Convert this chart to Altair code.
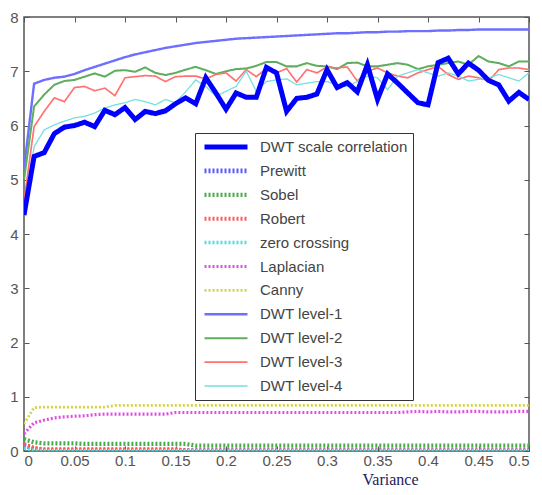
import altair as alt
import pandas as pd

variance = [0.0, 0.01, 0.02, 0.03, 0.04, 0.05, 0.06, 0.07, 0.08, 0.09,
            0.1, 0.11, 0.12, 0.13, 0.14, 0.15, 0.16, 0.17, 0.18, 0.19,
            0.2, 0.21, 0.22, 0.23, 0.24, 0.25, 0.26, 0.27, 0.28, 0.29,
            0.3, 0.31, 0.32, 0.33, 0.34, 0.35, 0.36, 0.37, 0.38, 0.39,
            0.4, 0.41, 0.42, 0.43, 0.44, 0.45, 0.46, 0.47, 0.48, 0.49, 0.5]

dwt_scale_corr = [4.35, 5.43, 5.5, 5.85, 5.97, 6.0, 6.06, 5.98, 6.28, 6.2,
                  6.33, 6.11, 6.26, 6.22, 6.27, 6.4, 6.51, 6.4, 6.88, 6.6,
                  6.3, 6.6, 6.52, 6.52, 7.07, 6.97, 6.26, 6.5, 6.52, 6.58,
                  7.03, 6.7, 6.79, 6.62, 7.12, 6.48, 6.95, 6.78, 6.6, 6.42,
                  6.38, 7.16, 7.24, 6.95, 7.15, 7.02, 6.83, 6.75, 6.45, 6.61, 6.48]

prewitt = [0.1, 0.04, 0.02, 0.02, 0.02, 0.02, 0.02, 0.02, 0.02, 0.02,
           0.02, 0.02, 0.02, 0.02, 0.02, 0.02, 0.01, 0.01, 0.01, 0.01,
           0.01, 0.01, 0.01, 0.01, 0.01, 0.01, 0.01, 0.01, 0.01, 0.01,
           0.01, 0.01, 0.01, 0.01, 0.01, 0.01, 0.01, 0.01, 0.01, 0.01,
           0.01, 0.01, 0.01, 0.01, 0.01, 0.01, 0.01, 0.01, 0.01, 0.01, 0.01]

sobel = [0.22, 0.16, 0.14, 0.14, 0.14, 0.14, 0.13, 0.13, 0.13, 0.13,
         0.13, 0.13, 0.13, 0.13, 0.13, 0.13, 0.13, 0.1, 0.1, 0.1,
         0.1, 0.1, 0.1, 0.1, 0.1, 0.1, 0.1, 0.1, 0.1, 0.1,
         0.1, 0.1, 0.1, 0.1, 0.1, 0.1, 0.1, 0.1, 0.1, 0.1,
         0.1, 0.1, 0.1, 0.1, 0.1, 0.1, 0.1, 0.1, 0.1, 0.1, 0.1]

robert = [0.13, 0.06, 0.03, 0.03, 0.03, 0.03, 0.03, 0.03, 0.03, 0.03,
          0.03, 0.03, 0.03, 0.03, 0.03, 0.03, 0.01, 0.01, 0.01, 0.01,
          0.01, 0.01, 0.01, 0.01, 0.01, 0.01, 0.01, 0.01, 0.01, 0.01,
          0.01, 0.01, 0.01, 0.01, 0.01, 0.01, 0.01, 0.01, 0.01, 0.01,
          0.01, 0.01, 0.01, 0.01, 0.01, 0.01, 0.01, 0.01, 0.01, 0.01, 0.01]

zero_crossing = [0.05, 0.01, 0.005, 0.005, 0.005, 0.005, 0.005, 0.005, 0.005, 0.005,
                 0.005, 0.005, 0.005, 0.005, 0.005, 0.005, 0.005, 0.005, 0.005, 0.005,
                 0.005, 0.005, 0.005, 0.005, 0.005, 0.005, 0.005, 0.005, 0.005, 0.005,
                 0.005, 0.005, 0.005, 0.005, 0.005, 0.005, 0.005, 0.005, 0.005, 0.005,
                 0.005, 0.005, 0.005, 0.005, 0.005, 0.005, 0.005, 0.005, 0.005, 0.005, 0.005]

laplacian = [0.32, 0.52, 0.57, 0.61, 0.63, 0.64, 0.65, 0.67, 0.68, 0.68,
             0.68, 0.68, 0.68, 0.68, 0.68, 0.71, 0.71, 0.71, 0.71, 0.71,
             0.71, 0.71, 0.71, 0.71, 0.71, 0.71, 0.71, 0.71, 0.71, 0.71,
             0.71, 0.71, 0.71, 0.71, 0.71, 0.71, 0.71, 0.71, 0.72, 0.73,
             0.72, 0.73, 0.72, 0.72, 0.73, 0.73, 0.72, 0.72, 0.72, 0.73, 0.73]

canny = [0.5, 0.8, 0.81, 0.81, 0.81, 0.81, 0.81, 0.81, 0.81, 0.84,
         0.84, 0.84, 0.84, 0.84, 0.84, 0.84, 0.84, 0.84, 0.84, 0.84,
         0.84, 0.84, 0.84, 0.84, 0.84, 0.84, 0.84, 0.84, 0.84, 0.84,
         0.84, 0.84, 0.84, 0.84, 0.84, 0.84, 0.84, 0.84, 0.84, 0.84,
         0.84, 0.84, 0.84, 0.84, 0.84, 0.84, 0.84, 0.84, 0.84, 0.84, 0.84]

dwt_level1 = [5.2, 6.77, 6.84, 6.88, 6.9, 6.95, 7.02, 7.08, 7.14, 7.2,
              7.26, 7.31, 7.35, 7.39, 7.43, 7.46, 7.49, 7.52, 7.54, 7.56,
              7.58, 7.6, 7.61, 7.62, 7.63, 7.64, 7.65, 7.66, 7.67, 7.68,
              7.69, 7.7, 7.7, 7.71, 7.72, 7.72, 7.73, 7.73, 7.74, 7.74,
              7.74, 7.75, 7.75, 7.76, 7.76, 7.77, 7.77, 7.77, 7.77, 7.77, 7.77]

dwt_level2 = [5.0, 6.35, 6.57, 6.75, 6.82, 6.84, 6.9, 6.96, 6.9, 7.01,
              7.02, 6.99, 7.07, 6.97, 6.93, 6.97, 7.03, 7.08, 7.02, 6.95,
              7.0, 7.04, 7.05, 7.1, 7.17, 7.17, 7.09, 7.09, 7.15, 7.1,
              7.09, 7.04, 7.15, 7.16, 7.09, 7.09, 7.12, 7.15, 7.12, 7.04,
              7.09, 7.12, 7.15, 7.18, 7.12, 7.28, 7.18, 7.15, 7.09, 7.18, 7.18]

dwt_level3 = [4.6, 5.98, 6.26, 6.51, 6.44, 6.7, 6.72, 6.64, 6.69, 6.55,
              6.88, 6.9, 6.92, 6.91, 6.81, 6.9, 6.91, 6.91, 6.86, 6.94,
              6.97, 6.82, 7.03, 6.9, 7.05, 6.97, 7.05, 6.8, 7.03, 6.97,
              7.08, 7.06, 7.08, 6.82, 7.0, 7.06, 6.97, 6.91, 6.88, 6.97,
              7.03, 7.09, 6.94, 6.85, 6.91, 6.88, 6.82, 7.03, 7.06, 7.06, 7.03]

dwt_level4 = [4.4, 5.61, 5.92, 6.01, 6.08, 6.14, 6.17, 6.23, 6.32, 6.38,
              6.42, 6.48, 6.44, 6.38, 6.48, 6.42, 6.62, 6.84, 6.72, 6.54,
              6.63, 6.72, 7.0, 6.63, 6.81, 6.84, 6.86, 6.75, 6.78, 6.81,
              6.81, 6.75, 6.72, 6.81, 6.91, 6.88, 6.66, 6.91, 6.97, 7.03,
              6.97, 6.91, 6.97, 6.91, 6.82, 6.85, 6.88, 6.94, 6.88, 6.82, 6.97]

series_names = ["DWT scale correlation", "Prewitt", "Sobel", "Robert", "zero crossing",
                "Laplacian", "Canny", "DWT level-1", "DWT level-2", "DWT level-3", "DWT level-4"]
series_values = [dwt_scale_corr, prewitt, sobel, robert, zero_crossing,
                 laplacian, canny, dwt_level1, dwt_level2, dwt_level3, dwt_level4]

colors = ["#0000ff", "#5a5aff", "#4caa4c", "#ff5a5a", "#4fdede", "#e050e0",
          "#d4d44a", "#6e6eff", "#5fae5f", "#ff7272", "#74e0e0"]
dotted = [2, 2]
solid = [1, 0]
dashes = [solid, dotted, dotted, dotted, dotted, dotted, dotted, solid, solid, solid, solid]
widths = [5, 1.3, 1.3, 1.3, 1.3, 1.3, 1.3, 1.3, 1.3, 2.2, 2.2]

x_ticks = [0, 0.05, 0.1, 0.15, 0.2, 0.25, 0.3, 0.35, 0.4, 0.45, 0.5]
y_ticks = [0, 1, 2, 3, 4, 5, 6, 7, 8]

# draw the thick line last so it sits on top
draw_order = series_names[1:] + series_names[:1]
rows = []
for order_idx, name in enumerate(draw_order):
    vals = series_values[series_names.index(name)]
    for v, val in zip(variance, vals):
        rows.append({"variance": v, "value": val, "series": name, "z": order_idx})
df = pd.DataFrame(rows)

xscale = alt.Scale(domain=[0, 0.5], nice=False)
yscale = alt.Scale(domain=[0, 8], nice=False)

legend = alt.Legend(
    title=None, orient="none", legendX=171, legendY=116,
    symbolType="stroke", symbolSize=1849, clipHeight=18, rowPadding=5.9,
    padding=5, symbolOffset=2, labelOffset=10,
    labelFont="Liberation Sans", labelFontSize=15, labelColor="#444444",
    labelLimit=400, strokeColor="#333333", fillColor="white",
)

lines = alt.Chart(df).mark_line(clip=True).encode(
    x=alt.X("variance:Q", scale=xscale,
            axis=alt.Axis(values=x_ticks, format="~g", title="Variance",
                          offset=-5, tickSize=5, domain=False, grid=False,
                          labelPadding=2, titleX=366, titleY=33.5,
                          titleBaseline="middle", titleAlign="center",
                          titleFont="Liberation Serif", titleFontSize=16,
                          titleFontWeight="normal", titleColor="#1c2258")),
    y=alt.Y("value:Q", scale=yscale,
            axis=alt.Axis(values=y_ticks, title=None, offset=-5, tickSize=5,
                          domain=False, grid=False, labelPadding=6)),
    color=alt.Color("series:N", scale=alt.Scale(domain=series_names, range=colors), legend=legend),
    strokeDash=alt.StrokeDash("series:N", scale=alt.Scale(domain=series_names, range=dashes), legend=legend),
    strokeWidth=alt.StrokeWidth("series:N", scale=alt.Scale(domain=series_names, range=widths), legend=legend),
    detail="z:N",
)

mirror = alt.Chart(df).mark_point(opacity=0).encode(
    x=alt.X("variance:Q", scale=xscale,
            axis=alt.Axis(orient="top", values=x_ticks, labels=False, title=None,
                          offset=-5, tickSize=5, domain=False, grid=False)),
    y=alt.Y("value:Q", scale=yscale,
            axis=alt.Axis(orient="right", values=y_ticks, labels=False, title=None,
                          offset=-5, tickSize=5, domain=False, grid=False)),
)

chart = alt.layer(lines, mirror).resolve_axis(x="independent", y="independent").properties(
    width=505, height=434,
    background="white",
    autosize=alt.AutoSizeParams(type="none"),
    padding={"left": 16, "top": 9, "right": 5, "bottom": 36},
).configure_view(
    stroke="#555555", strokeWidth=1.5
).configure_axis(
    labelFont="Liberation Sans", labelFontSize=15, labelColor="#555555",
    tickColor="#555555", tickWidth=1
)

chart.save("out.html", embed_options={"renderer": "svg", "actions": False})
